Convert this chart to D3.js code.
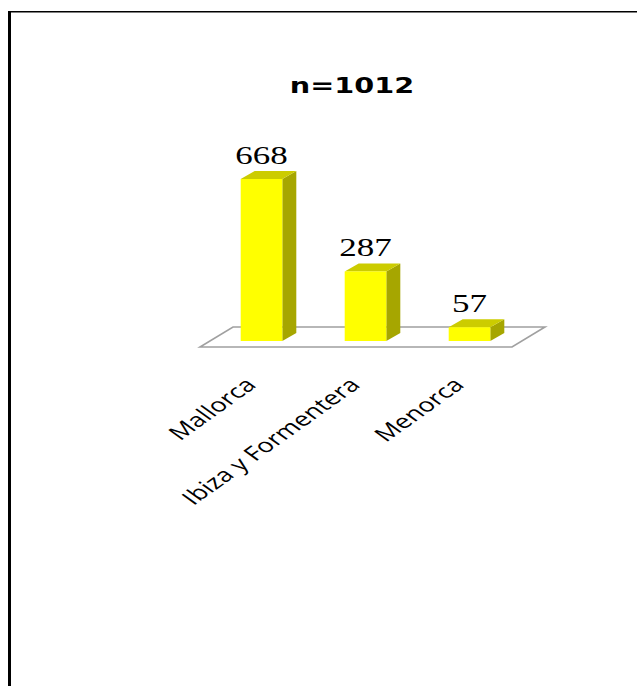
<!DOCTYPE html>
<html><head><meta charset="utf-8">
<script src="https://cdn.jsdelivr.net/npm/d3@7"></script>
<style>body{margin:0;background:#fff;overflow:hidden}</style>
</head><body><svg id="c" width="637" height="686"></svg>
<script>
const categories = ["Mallorca", "Ibiza y Formentera", "Menorca"];
const values = [668, 287, 57];
const title = "n=1012";

const W = 637, H = 686;
const SX = 1.4;           // horizontal stretch of the original picture
const svg = d3.select("#c");

// frame
svg.append("rect").attr("x", 9.5).attr("y", 11.75).attr("width", 800).attr("height", 800)
  .attr("fill", "none").attr("stroke", "#000").attr("stroke-width", 1.5);
svg.append("line").attr("x1", 9.5).attr("x2", 9.5).attr("y1", 11).attr("y2", H)
  .attr("stroke", "#000").attr("stroke-width", 3);

// title
svg.append("text").attr("transform", `translate(352,93) scale(${SX},1)`)
  .attr("text-anchor", "middle").attr("font-family", "DejaVu Sans").attr("font-weight", "bold")
  .attr("font-size", 20.5).attr("fill", "#000").text(title);

const x = d3.scaleBand().domain(categories).range([209.5, 521.5]).paddingInner(0.6).paddingOuter(0.3);
const y = d3.scaleLinear().domain([0, 668]).range([341, 179]);
const bw = x.bandwidth();
const DX = 14, DY = 8;          // bar depth
const FDX = 33, FDY = 20;       // floor depth
const r0 = x.range()[0], r1 = x.range()[1];
const floorFront = y(0) + 6;
const fl = r0 - 9.5, fr = r1 - 9.5;

// floor
svg.append("path")
  .attr("d", `M${fl},${floorFront}L${fr},${floorFront}L${fr + FDX},${floorFront - FDY}L${fl + FDX},${floorFront - FDY}Z`)
  .attr("fill", "#fff").attr("stroke", "#a0a0a0").attr("stroke-width", 1.6);

const g = svg.append("g").selectAll("g").data(categories).join("g");
g.each(function (c, i) {
  const s = d3.select(this);
  const x0 = x(c), x1 = x0 + bw, yt = y(values[i]), yb = y(0);
  // side
  s.append("path").attr("d", `M${x1},${yt}L${x1 + DX},${yt - DY}L${x1 + DX},${yb - DY}L${x1},${yb}Z`)
    .attr("fill", "#a6a600");
  // top
  s.append("path").attr("d", `M${x0},${yt}L${x0 + DX},${yt - DY}L${x1 + DX},${yt - DY}L${x1},${yt}Z`)
    .attr("fill", "#cccc00");
  // front
  s.append("rect").attr("x", x0).attr("y", yt).attr("width", bw).attr("height", yb - yt)
    .attr("fill", "#ffff00");
  // value
  s.append("text").attr("transform", `translate(${x0 + bw / 2},${yt - 15}) scale(${SX},1)`)
    .attr("text-anchor", "middle").attr("font-family", "Liberation Serif").attr("font-size", 25)
    .attr("fill", "#000").text(values[i]);
  // category label
  s.append("text").attr("transform", `translate(${x0 + bw / 2 - 4},${floorFront + 39}) scale(${SX},1) rotate(-45)`)
    .attr("text-anchor", "end").attr("font-family", "Open Sans").attr("font-size", 19.5)
    .attr("fill", "#000").text(c);
});
</script></body></html>
